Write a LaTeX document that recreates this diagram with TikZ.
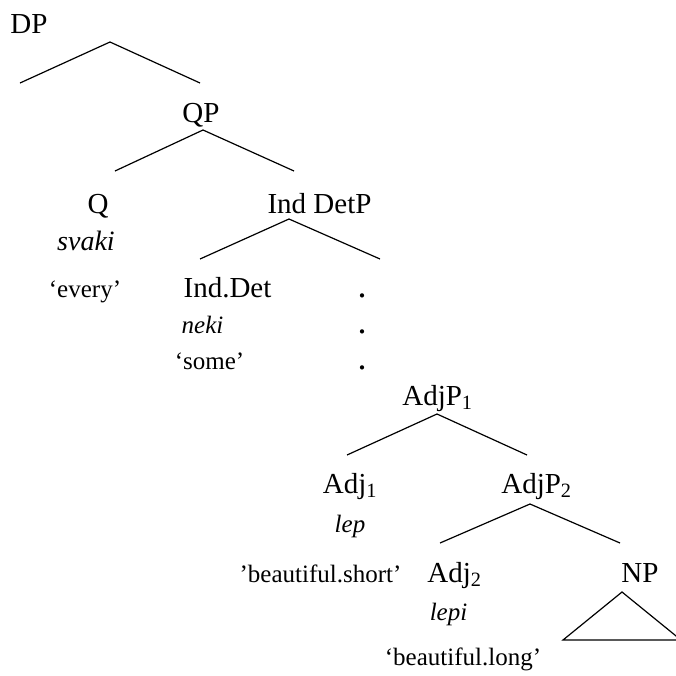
\documentclass[tikz,border=0pt]{standalone}
\usepackage{fontspec}
\setmainfont{Liberation Serif}
\begin{document}
\begin{tikzpicture}[x=1pt,y=-1pt,
  cat/.style={anchor=base,inner sep=0pt,font=\fontsize{29}{34}\selectfont},
  gloss/.style={anchor=base,inner sep=0pt,font=\fontsize{25}{30}\selectfont},
  word/.style={gloss,font=\fontsize{25}{30}\selectfont\itshape},
  ellipsisdot/.style={anchor=base,inner sep=0pt,font=\fontsize{36}{40}\selectfont},
  branch/.style={line width=1.2pt,line join=miter}]
\useasboundingbox (0,0) rectangle (676,675);
% category labels
\node[cat] (dp) at (29,33) {DP};
\node[cat] (qp) at (201,122) {QP};
\node[cat] (q) at (98,213) {Q};
\node[cat] (inddetp) at (319.5,213) {Ind DetP};
\node[cat] (inddet) at (227.5,297) {Ind.Det};
\node[cat] (adjp1) at (437.5,405) {AdjP\textsubscript{1}};
\node[cat] (adj1) at (350,493) {Adj\textsubscript{1}};
\node[cat] (adjp2) at (536.5,493) {AdjP\textsubscript{2}};
\node[cat] (adj2) at (454.5,582) {Adj\textsubscript{2}};
\node[cat] (np) at (640,582) {NP};
% lexical items and glosses
\node[word,font=\fontsize{28}{32}\selectfont\itshape] (svaki) at (86,250) {svaki};
\node[gloss] (every) at (85,297) {‘every’};
\node[word] (neki) at (202.5,333) {neki};
\node[gloss] (some) at (209.5,369) {‘some’};
\node[word] (lep) at (350,532) {lep};
\node[gloss] (short) at (320.5,582) {’beautiful.short’};
\node[word] (lepi) at (448.5,620) {lepi};
\node[gloss] (long) at (463,665) {‘beautiful.long’};
% vertical ellipsis
\node[ellipsisdot] (d1) at (362,297) {.};
\node[ellipsisdot] (d2) at (362,333) {.};
\node[ellipsisdot] (d3) at (362,369) {.};
% branch points
\coordinate (dpT) at (110,42);  \coordinate (dpL) at (20,83);   \coordinate (dpR) at (200,83);
\coordinate (qpT) at (203,130); \coordinate (qpL) at (115,171); \coordinate (qpR) at (294,171);
\coordinate (idT) at (289,219); \coordinate (idL) at (200,259); \coordinate (idR) at (380,259);
\coordinate (a1T) at (437,414); \coordinate (a1L) at (347,455); \coordinate (a1R) at (527,455);
\coordinate (a2T) at (530,504); \coordinate (a2L) at (440,543); \coordinate (a2R) at (620,543);
\coordinate (npT) at (622,592); \coordinate (npL) at (563,640); \coordinate (npR) at (681,640);
\draw[branch] (dpL) -- (dpT) -- (dpR);
\draw[branch] (qpL) -- (qpT) -- (qpR);
\draw[branch] (idL) -- (idT) -- (idR);
\draw[branch] (a1L) -- (a1T) -- (a1R);
\draw[branch] (a2L) -- (a2T) -- (a2R);
\draw[branch] (npT) -- (npL) -- (npR) -- cycle;
\end{tikzpicture}
\end{document}
